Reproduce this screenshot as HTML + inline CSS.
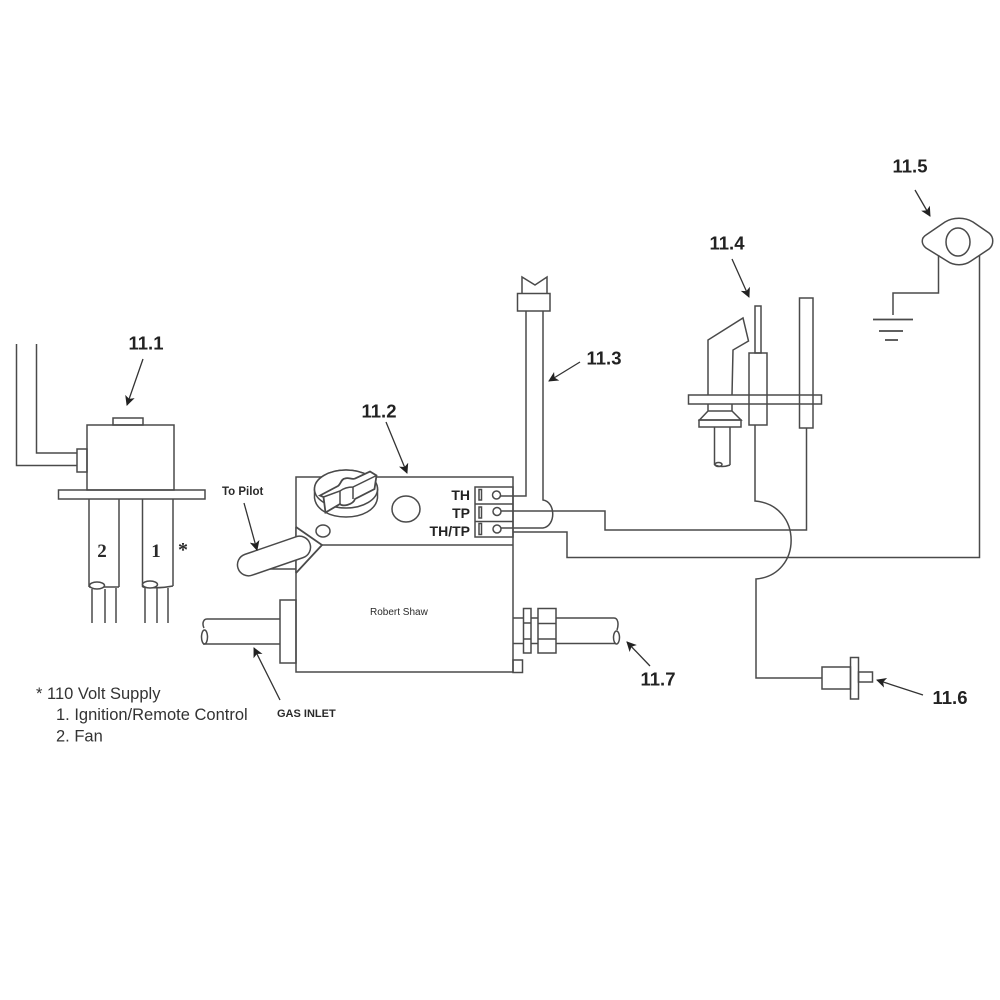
<!DOCTYPE html>
<html><head><meta charset="utf-8"><style>
html,body{margin:0;padding:0;background:#fff}
svg{display:block}
text{font-family:"Liberation Sans",sans-serif;fill:#2a2a2a}
.l{font-weight:bold;font-size:18.500px;text-anchor:middle;fill:#222}
.t{font-weight:bold;font-size:14px;text-anchor:end;fill:#222}
.n{font-size:16.500px;fill:#333}
</style></head><body>
<svg width="1000" height="1000" viewBox="0 0 1000 1000" xmlns="http://www.w3.org/2000/svg">
<defs><marker id="a" viewBox="0 0 10 10" refX="9" refY="5" markerWidth="11" markerHeight="10" markerUnits="userSpaceOnUse" orient="auto"><path d="M0 0L10 5L0 10L2.500 5Z" fill="#222"/></marker></defs>
<rect width="1000" height="1000" fill="#fff"/>
<g fill="none" stroke="#4a4a4a" stroke-width="1.500">
<!-- 11.1 -->
<path d="M16.500 344V465.500H77M36.500 344V453H77"/>
<rect x="77" y="449" width="10" height="23"/>
<rect x="87" y="425" width="87" height="65"/>
<rect x="113" y="418" width="30" height="7"/>
<rect x="58.500" y="490" width="146.500" height="9"/>
<path d="M89 499V587M119 499V587M89 587H119M142.500 499V587M173 499V586M142.500 587Q158 589 173 586"/>
<ellipse cx="97" cy="585.500" rx="7.500" ry="3.500" fill="#fff"/>
<ellipse cx="150" cy="584.500" rx="7.500" ry="3.500" fill="#fff"/>
<path d="M92 589V623M105 589V623M116 588V623M145 588V623M157 588V623M168 588V623"/>
<!-- control body -->
<path d="M296 477H513V672H296ZM322 545H513"/>
<path d="M296 527L322 545L296 573" stroke-width="1.800" fill="#fff"/>
<path d="M296 527V573"/>
<ellipse cx="346" cy="489" rx="31.500" ry="19"/>
<path d="M314.500 489V498C316 510 330 517 346 517C362 517 376 510 377.500 498V489" fill="#fff"/>
<ellipse cx="346" cy="489" rx="31.500" ry="19" fill="#fff"/>
<path d="M320 495.500L338 486C341 484 341 479 345 478.500C349 477 352 480 355 478.500L370 471.500L376.500 475.500L374.500 489L355 499C353 505 342 507 340 504L325.500 512.500L323.500 497Z" fill="#fff" stroke-width="1.800"/>
<path d="M323.500 497L340 491C344 488 349 487 353 487L376.500 475.500M340 491V504M353 487V499"/>
<ellipse cx="323" cy="531" rx="7" ry="6"/>
<ellipse cx="406" cy="509" rx="14" ry="13"/>
<path d="M258 569H296"/>
<rect x="236" y="545" width="76" height="22" rx="11" ry="11" transform="rotate(-19 274 556)" fill="#fff"/>
<!-- terminals -->
<rect x="475" y="487" width="38" height="50"/>
<path d="M475 504H513M475 521.500H513"/>
<rect x="479" y="489.500" width="2.500" height="10.500"/>
<rect x="479" y="507" width="2.500" height="11"/>
<rect x="479" y="523.500" width="2.500" height="11"/>
<circle cx="496.500" cy="495" r="4"/>
<circle cx="497" cy="511.500" r="4"/>
<circle cx="497" cy="529" r="4"/>
<!-- wires -->
<path d="M500.500 496H526V311M543 311V500C556 502 556 526 543 528H501"/>
<path d="M501 511H605V530H806.500V428"/>
<path d="M513 532H567V557.500H979.500V254"/>
<path d="M755 425V501C803 505 803 575 756 579V678H822"/>
<!-- inlet -->
<path d="M280 619H207C203 619 202 624 204 628M280 644H203"/>
<ellipse cx="204.500" cy="637" rx="3" ry="7"/>
<rect x="280" y="600" width="16" height="63"/>
<!-- outlet -->
<path d="M513 618H614C618 618 619 624 617 630M513 643.500H616"/>
<ellipse cx="616.500" cy="637.500" rx="3" ry="6.500"/>
<rect x="523.500" y="608.500" width="7.500" height="44.500" fill="#fff"/>
<path d="M523.500 623H531M523.500 639H531"/>
<rect x="538" y="608.500" width="18" height="44.500" fill="#fff"/>
<path d="M538 623.500H556M538 639H556"/>
<rect x="513" y="660" width="9.500" height="12.500"/>
<!-- 11.3 top -->
<path d="M522 293V277L535 285L547 277V293"/>
<rect x="517.500" y="293.500" width="32.500" height="17.500"/>
<!-- 11.4 -->
<rect x="688.500" y="395" width="133" height="9"/>
<path d="M708 395V340L743 318L748.500 341L733 350L732 395"/>
<path d="M708 404V411H732V404M708 411L699.500 420H741L732 411"/>
<rect x="699" y="420" width="42" height="7"/>
<path d="M714.500 427V465M730 427V465M714.500 465Q722 468 730 465"/>
<ellipse cx="718.500" cy="464.500" rx="3.500" ry="2"/>
<rect x="755" y="306" width="6" height="47"/>
<rect x="749" y="353" width="18" height="72"/>
<rect x="799.500" y="298" width="13.500" height="130"/>
<!-- 11.5 -->
<path d="M945 222C953 217 965 217 973 222L989 233C994 237 994 245 989 249L971 261C964 266 954 266 947 261L926 248C921 244 921 238 926 235Z" fill="#fff"/>
<ellipse cx="958" cy="242" rx="12" ry="14"/>
<path d="M938.500 255V293H893V315"/>
<path d="M873 319.500H913M879 331H903M885 340H898" stroke-width="1.800"/>
<!-- 11.6 -->
<rect x="822" y="667" width="28.500" height="22"/>
<rect x="850.500" y="657.500" width="8" height="41.500"/>
<rect x="858.500" y="672" width="14" height="10"/>
</g>
<g stroke="#333" stroke-width="1.300" fill="none">
<path d="M143 359L127 405" marker-end="url(#a)"/>
<path d="M386 422L407 473" marker-end="url(#a)"/>
<path d="M580 362L549 381" marker-end="url(#a)"/>
<path d="M732 259L749 297" marker-end="url(#a)"/>
<path d="M915 190L930 216" marker-end="url(#a)"/>
<path d="M923 695L877 680" marker-end="url(#a)"/>
<path d="M650 666L627 642" marker-end="url(#a)"/>
<path d="M244 503L257 550" marker-end="url(#a)"/>
<path d="M280 700L254 648" marker-end="url(#a)"/>
</g>
<text class="l" x="146" y="349.500">11.1</text>
<text class="l" x="379" y="417.500">11.2</text>
<text class="l" x="604" y="364.500">11.3</text>
<text class="l" x="727" y="249.500">11.4</text>
<text class="l" x="910" y="172.500">11.5</text>
<text class="l" x="950" y="704">11.6</text>
<text class="l" x="658" y="685.500">11.7</text>
<text class="t" x="470" y="500">TH</text>
<text class="t" x="470" y="518">TP</text>
<text class="t" x="470" y="536">TH/TP</text>
<text x="222" y="495" font-size="11.500" font-weight="bold">To Pilot</text>
<text x="277" y="717" font-size="11" font-weight="bold">GAS INLET</text>
<text x="370" y="615" font-size="10" fill="#444">Robert Shaw</text>
<text x="102" y="557" font-size="19" font-weight="bold" text-anchor="middle" style="font-family:'Liberation Serif',serif">2</text>
<text x="156" y="557" font-size="19" font-weight="bold" text-anchor="middle" style="font-family:'Liberation Serif',serif">1</text>
<text x="183" y="556" font-size="20" font-weight="bold" text-anchor="middle" style="font-family:'Liberation Serif',serif">*</text>
<text class="n" x="36" y="699">* 110 Volt Supply</text>
<text class="n" x="56" y="720">1. Ignition/Remote Control</text>
<text class="n" x="56" y="741.500">2. Fan</text>
</svg>
</body></html>
